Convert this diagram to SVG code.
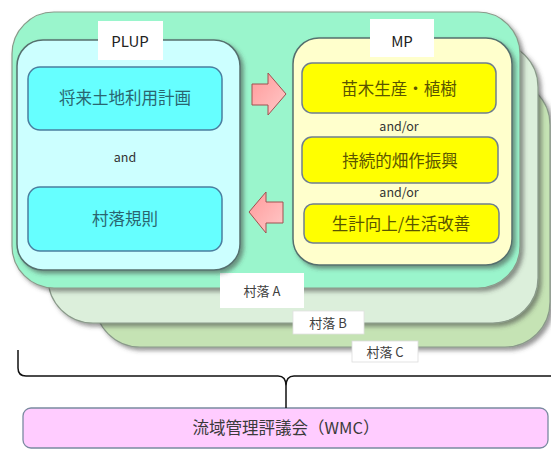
<svg xmlns="http://www.w3.org/2000/svg" width="551" height="450" viewBox="0 0 551 450">
<defs>
<filter id="sh" x="-10%" y="-10%" width="125%" height="125%">
<feDropShadow dx="3" dy="3" stdDeviation="2" flood-color="#404040" flood-opacity="0.55"/>
</filter>
<linearGradient id="pink" x1="0" y1="0" x2="1" y2="1">
<stop offset="0" stop-color="#ff9a9a"/>
<stop offset="1" stop-color="#ffc8c8"/>
</linearGradient>
<style>
text{font-family:"Noto Sans CJK JP","Noto Sans",sans-serif;text-anchor:middle}
.vil{stroke:#8a9a8a;stroke-width:1.2}
.lbl{fill:#ffffff}
.ltx{font-size:13px;fill:#404040}
.cy{fill:#66ffff;stroke:#4a7fa0;stroke-width:1.5}
.ye{fill:#ffff00;stroke:#6f7f8f;stroke-width:1.5}
.cyt{font-size:16.5px;fill:#2a6670}
.yet{font-size:16.5px;fill:#5a5500}
.sm{font-size:12.5px;fill:#333333}
.arr{fill:url(#pink);stroke:#a05050;stroke-width:1}
</style>
</defs>

<g id="village-C">
<rect x="95" y="80" width="455" height="267" rx="45" fill="#c5e3b4" class="vil" filter="url(#sh)"/>
<rect x="352" y="341" width="66" height="21" class="lbl" stroke="#dddddd" stroke-width="0.8"/>
<text x="385" y="357" class="ltx">村落 C</text>
</g>

<g id="village-B">
<rect x="48" y="42" width="490" height="281" rx="45" fill="#dcefdb" class="vil" filter="url(#sh)"/>
<rect x="293" y="311" width="71" height="23" class="lbl" stroke="#e0e0e0" stroke-width="0.8"/>
<text x="328" y="328" class="ltx">村落 B</text>
</g>

<g id="village-A">
<rect x="12" y="12" width="508" height="276" rx="42" fill="#9af5cc" class="vil" filter="url(#sh)"/>
<rect x="220" y="273" width="84" height="35" class="lbl"/>
<text x="262" y="296" class="ltx">村落 A</text>
</g>

<g id="PLUP">
<rect x="17" y="40" width="223" height="230" rx="26" fill="#ccffff" stroke="#55706e" stroke-width="1.5" filter="url(#sh)"/>
<rect x="98" y="21" width="65" height="39" fill="#ffffff"/>
<text x="130" y="47" font-size="15" fill="#222222">PLUP</text>
</g>

<g id="plan-landuse">
<rect x="28" y="67" width="194" height="63" rx="12" class="cy"/>
<text x="125" y="104" class="cyt">将来土地利用計画</text>
</g>
<text x="125" y="162" class="sm">and</text>
<g id="village-rules">
<rect x="28" y="187" width="194" height="64" rx="12" class="cy"/>
<text x="125" y="225" class="cyt">村落規則</text>
</g>

<g id="MP">
<rect x="293" y="38" width="219" height="227" rx="26" fill="#ffffcc" stroke="#55706e" stroke-width="1.5" filter="url(#sh)"/>
<rect x="370" y="19" width="64" height="38" fill="#ffffff"/>
<text x="402" y="47" font-size="15" fill="#222222">MP</text>
</g>

<g id="mp-seedling">
<rect x="302" y="63" width="194" height="50" rx="10" class="ye"/>
<text x="399" y="95" class="yet">苗木生産・植樹</text>
</g>
<text x="399" y="131" class="sm">and/or</text>
<g id="mp-farming">
<rect x="302" y="137" width="196" height="46" rx="10" class="ye"/>
<text x="400" y="167" class="yet">持続的畑作振興</text>
</g>
<text x="399" y="197" class="sm">and/or</text>
<g id="mp-livelihood">
<rect x="304" y="204" width="195" height="39" rx="9" class="ye"/>
<text x="401" y="230" class="yet">生計向上/生活改善</text>
</g>

<g id="WMC">
<rect x="23" y="408" width="525" height="40" rx="8" fill="#ffccff" stroke="#7a8aa0" stroke-width="1.3"/>
<text x="286" y="434" font-size="16.5" fill="#3a3a3a">流域管理評議会（WMC）</text>
</g>

<g id="connectors">
<path class="arr" d="M252,84 L268,84 L268,73 L286,94 L268,115 L268,105 L252,105 Z"/>
<path class="arr" d="M283,202 L266,202 L266,192 L249,212 L266,233 L266,223 L283,223 Z"/>
<path d="M18,350 L18,368 Q18,376 26,376 L278,376 Q286,376 286,386 L286,408 M286,386 Q286,376 294,376 L551,376" fill="none" stroke="#111111" stroke-width="1.5"/>
</g>
</svg>
